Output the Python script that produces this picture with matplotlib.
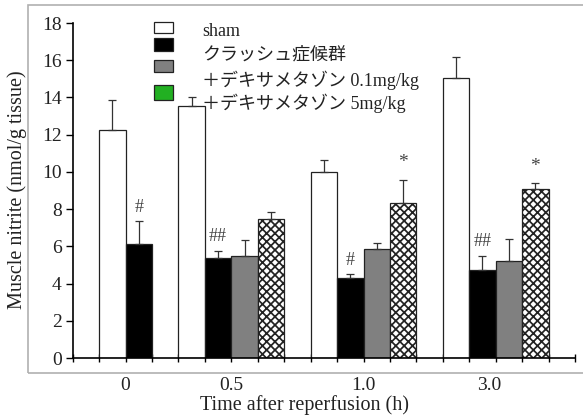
import matplotlib
matplotlib.use("Agg")
import matplotlib.pyplot as plt
import numpy as np
from matplotlib.patches import Rectangle

plt.rcParams['hatch.linewidth'] = 1.25
plt.rcParams['hatch.color'] = '#1a1a1a'

# ---- data ----
time_labels = ["0", "0.5", "1.0", "3.0"]
series_names = ["sham", "クラッシュ症候群", "＋デキサメタゾン 0.1mg/kg", "＋デキサメタゾン 5mg/kg"]
sham      = [12.25, 13.55, 10.02, 15.05]
sham_err  = [1.6, 0.5, 0.6, 1.1]
crush     = [6.1, 5.35, 4.28, 4.75]
crush_err = [1.25, 0.42, 0.22, 0.75]
dex01     = [np.nan, 5.5, 5.88, 5.22]
dex01_err = [np.nan, 0.86, 0.28, 1.2]
dex5      = [np.nan, 7.47, 8.32, 9.07]
dex5_err  = [np.nan, 0.36, 1.27, 0.32]
crush_marks = ["#", "##", "#", "##"]
dex5_marks = ["", "", "*", "*"]

# ---- layout ----
fig = plt.figure(figsize=(5.83, 4.19), dpi=100)
W, H = 583, 419
ax = fig.add_axes([72.7 / W, (H - 358) / H, (575 - 72.7) / W, (358 - 23) / H])

group_start = [1, 4, 9, 14]
width = 1.0
series = [(sham, sham_err, dict(facecolor="white")),
          (crush, crush_err, dict(facecolor="black")),
          (dex01, dex01_err, dict(facecolor="#808080")),
          (dex5, dex5_err, dict(facecolor="white", hatch="xxxx"))]

for si, (vals, errs, style) in enumerate(series):
    xs = np.array(group_start) + si + 0.5
    v = np.array(vals, dtype=float)
    e = np.array(errs, dtype=float)
    ok = ~np.isnan(v)
    ax.bar(xs[ok], v[ok], width=width, edgecolor="#222222", linewidth=0.9, zorder=2, **style)
    ax.errorbar(xs[ok], v[ok], yerr=[np.zeros(ok.sum()), e[ok]], fmt="none",
                ecolor="#333333", elinewidth=0.9, capsize=3, capthick=0.9, zorder=3)

serif = "Liberation Serif"
# significance marks
for gi in range(4):
    x = group_start[gi] + 1.5
    top = crush[gi] + crush_err[gi]
    ax.text(x, top + 0.3, crush_marks[gi], ha="center", va="bottom", fontsize=13,
            family=serif, color="#444444")
    if dex5_marks[gi]:
        x = group_start[gi] + 3.5
        top = dex5[gi] + dex5_err[gi]
        ax.text(x, top + 0.45, dex5_marks[gi], ha="center", va="bottom", fontsize=14,
                family=serif, color="#444444")

ax.set_xlim(0, 19)
ax.set_ylim(0, 18)
ax.set_yticks(np.arange(0, 19, 2))
ax.set_xticks(np.arange(0, 20, 1))
ax.set_xticklabels([])
ax.tick_params(axis="x", direction="inout", length=6, width=1, color="black")
ax.tick_params(axis="y", direction="out", length=5, width=1, color="black", pad=3)
for lab in ax.get_yticklabels():
    lab.set_family(serif)
    lab.set_fontsize(14)
    lab.set_color("#222222")

centers = [group_start[0] + 1.0, group_start[1] + 2.0, group_start[2] + 2.0, group_start[3] + 1.75]
for c, lab in zip(centers, time_labels):
    ax.text(c, -1.0, lab, ha="center", va="top", fontsize=14, family=serif,
            color="#222222", transform=ax.transData, clip_on=False)

for s in ["top", "right"]:
    ax.spines[s].set_visible(False)
for s in ["left", "bottom"]:
    ax.spines[s].set_linewidth(1.2)

fig.text(17 / W, 1 - 190 / H, "Muscle nitrite (nmol/g tissue)", rotation=90, ha="center",
         va="center", fontsize=14.5, family=serif, color="#222222")
fig.text(304 / W, 1 - 405 / H, "Time after reperfusion (h)", ha="center", va="center",
         fontsize=14.5, family=serif, color="#222222")

# outer frame
fig.patches.append(Rectangle((28 / W, 1 - 373 / H), 1.2, (373 - 5) / H, transform=fig.transFigure,
                             fill=False, edgecolor="#b0b0b0", linewidth=1.2))

# legend (manual)
leg_colors = ["white", "black", "#808080", "#22b022"]
box_y = [22, 38, 60, 85]
box_h = [11, 13, 12, 15]
text_y = [32, 55, 80, 103]
for col, by, bh, ty, name in zip(leg_colors, box_y, box_h, text_y, series_names):
    fig.patches.append(Rectangle((154 / W, 1 - (by + bh) / H), 19 / W, bh / H,
                                 transform=fig.transFigure, facecolor=col,
                                 edgecolor="#222222", linewidth=0.9))
    fig.text(202 / W, 1 - ty / H, name, ha="left", va="center", fontsize=13,
             family=["Liberation Serif", "Noto Sans CJK JP", "DejaVu Sans"], color="#222222")

fig.savefig("out.png", dpi=100)
